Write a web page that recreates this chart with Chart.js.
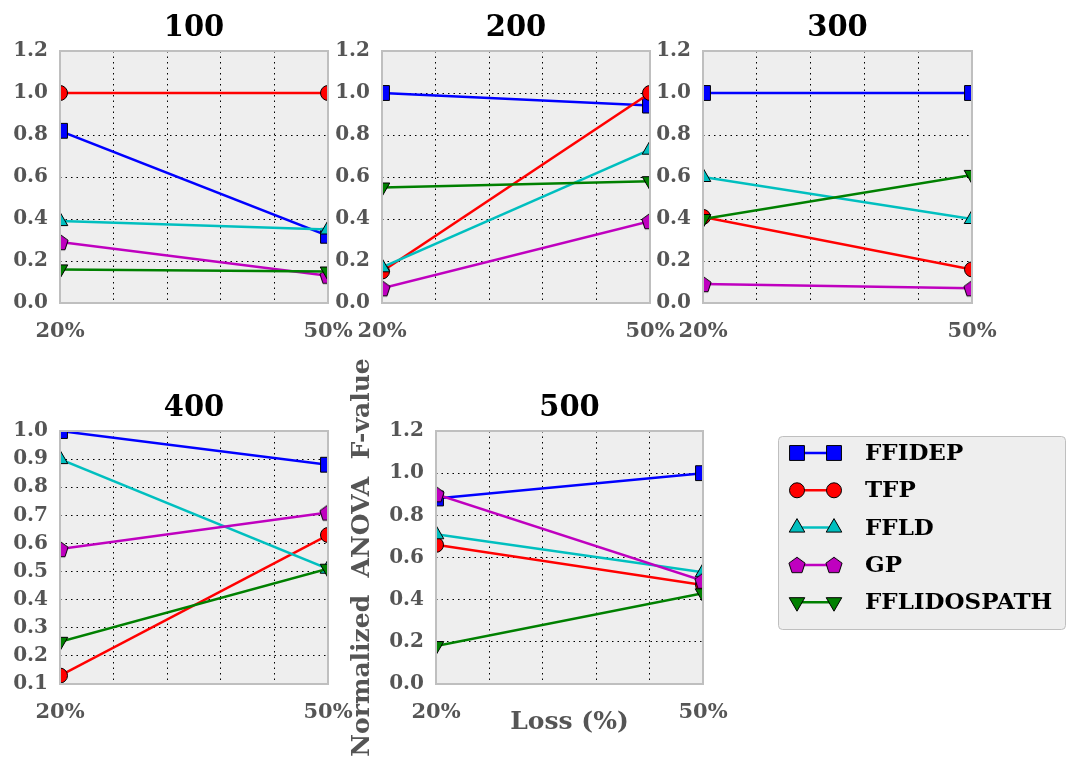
<!DOCTYPE html>
<html>
<head>
<meta charset="utf-8">
<script src="https://cdn.jsdelivr.net/npm/chart.js@4.4.0/dist/chart.umd.min.js"></script>
<style>
    body { margin: 0; background: #fff; }
    #wrap { position: relative; width: 1068px; height: 761px; }
    #wrap canvas { position: absolute; left: 0; top: 0; }
</style>
</head>
<body>
<div id="wrap">
    <canvas id="p100" width="1068" height="761"></canvas>
    <canvas id="p200" width="1068" height="761"></canvas>
    <canvas id="p300" width="1068" height="761"></canvas>
    <canvas id="p400" width="1068" height="761"></canvas>
    <canvas id="p500" width="1068" height="761"></canvas>
</div>
<script>
// x positions (loss %)
const lossLevels = [20, 50];
const panelTitles = ['100', '200', '300', '400', '500'];
const seriesNames = ['FFIDEP', 'TFP', 'FFLD', 'GP', 'FFLIDOSPATH'];

// one [20%, 50%] pair per panel (100..500)
const ffidep      = [[0.82, 0.32], [1.00, 0.94], [1.00, 1.00], [1.00, 0.88], [0.88, 1.00]];
const tfp         = [[1.00, 1.00], [0.15, 1.00], [0.41, 0.16], [0.13, 0.63], [0.66, 0.47]];
const ffld        = [[0.39, 0.35], [0.17, 0.73], [0.60, 0.40], [0.90, 0.51], [0.71, 0.53]];
const gp          = [[0.29, 0.13], [0.07, 0.39], [0.09, 0.07], [0.58, 0.71], [0.90, 0.49]];
const fflidospath = [[0.16, 0.15], [0.55, 0.58], [0.40, 0.61], [0.25, 0.51], [0.18, 0.43]];

// y tick ranges per panel
const yMins  = [0, 0, 0, 0.1, 0];
const yMaxs  = [1.2, 1.2, 1.2, 1.0, 1.2];
const ySteps = [0.2, 0.2, 0.2, 0.1, 0.2];

const seriesValues = [ffidep, tfp, ffld, gp, fflidospath];
const seriesColors = ['#0000ff', '#ff0000', '#00bfbf', '#bf00bf', '#008000'];

// pentagon marker (chart.js has none)
function makePentagon(color) {
    const c = document.createElement('canvas');
    c.width = 20; c.height = 20;
    const g = c.getContext('2d');
    g.beginPath();
    for (let i = 0; i < 5; i++) {
        const a = -Math.PI / 2 + i * 2 * Math.PI / 5;
        const px = 10 + Math.cos(a) * 8.5, py = 10.8 + Math.sin(a) * 8.5;
        if (i === 0) g.moveTo(px, py); else g.lineTo(px, py);
    }
    g.closePath();
    g.fillStyle = color;
    g.fill();
    g.lineWidth = 1;
    g.strokeStyle = '#000';
    g.stroke();
    return c;
}

const markerStyles   = ['rect', 'circle', 'triangle', makePentagon('#bf00bf'), 'triangle'];
const markerRadius   = [10.5, 7.5, 9, 8, 9];
const markerRotation = [0, 0, 0, 0, 180];

const yTickFont = { family: 'DejaVu Serif', weight: 'bold', size: 20 };
const xTickFont = { family: 'DejaVu Serif', weight: 'bold', size: 21 };
const labelFont = { family: 'DejaVu Serif', weight: 'bold', size: 25 };
const tickColor = '#555';

// plot area of each panel in page pixels
const panelRects = [
    { l: 60,  r: 328, t: 51,  b: 303 },
    { l: 382, r: 650, t: 51,  b: 303 },
    { l: 703, r: 972, t: 51,  b: 303 },
    { l: 60,  r: 328, t: 431, b: 684 },
    { l: 436, r: 703, t: 431, b: 684 }
];

const panelDecor = {
    id: 'panelDecor',
    beforeDraw(chart) {
        const a = chart.chartArea, ctx = chart.ctx;
        ctx.save();
        ctx.fillStyle = '#eeeeee';
        ctx.fillRect(a.left, a.top, a.right - a.left, a.bottom - a.top);
        ctx.restore();
    },
    afterDatasetsDraw(chart) {
        const a = chart.chartArea, ctx = chart.ctx;
        ctx.save();
        ctx.strokeStyle = '#bfbfbf';
        ctx.lineWidth = 2;
        ctx.strokeRect(a.left, a.top, a.right - a.left, a.bottom - a.top);
        ctx.restore();
    },
    afterDraw(chart, args, opts) {
        const a = chart.chartArea, ctx = chart.ctx;
        ctx.save();
        ctx.font = 'bold 29px "DejaVu Serif"';
        ctx.fillStyle = '#000';
        ctx.textAlign = 'center';
        ctx.textBaseline = 'alphabetic';
        ctx.fillText(opts.text, (a.left + a.right) / 2, a.top - 15);
        ctx.restore();
    }
};

const lineLegend = {
    id: 'lineLegend',
    afterDraw(chart) {
        const ctx = chart.ctx;
        const box = { x: 778, y: 436, w: 287, h: 193 };
        ctx.save();
        ctx.beginPath();
        ctx.roundRect(box.x + 0.5, box.y + 0.5, box.w, box.h, 4);
        ctx.fillStyle = '#eeeeee';
        ctx.fill();
        ctx.strokeStyle = '#bfbfbf';
        ctx.lineWidth = 1;
        ctx.stroke();

        seriesNames.forEach((name, s) => {
            const y = 453 + s * 37.3;
            const x1 = 797, x2 = 834;
            ctx.beginPath();
            ctx.moveTo(x1, y);
            ctx.lineTo(x2, y);
            ctx.strokeStyle = seriesColors[s];
            ctx.lineWidth = 2.5;
            ctx.stroke();
            [x1, x2].forEach(x => {
                ctx.fillStyle = seriesColors[s];
                ctx.strokeStyle = '#000';
                ctx.lineWidth = 1;
                Chart.helpers.drawPoint(ctx, {
                    pointStyle: markerStyles[s],
                    radius: markerRadius[s],
                    rotation: markerRotation[s],
                    borderWidth: 1
                }, x, y);
            });
            ctx.font = 'bold 23px "DejaVu Serif"';
            ctx.fillStyle = '#000';
            ctx.textAlign = 'left';
            ctx.textBaseline = 'middle';
            ctx.fillText(name, 865, y + 1);
        });
        ctx.restore();
    }
};

function createPanel(idx) {
    const rect = panelRects[idx];
    const last = idx === 4;
    const yWidth = last ? 89 : 60;
    const xHeight = last ? 53 : 40;

    const datasets = seriesNames.map((name, s) => ({
        label: name,
        data: lossLevels.map((x, k) => ({ x: x, y: seriesValues[s][idx][k] })),
        borderColor: seriesColors[s],
        backgroundColor: seriesColors[s],
        borderWidth: 2.5,
        pointStyle: markerStyles[s],
        pointRadius: markerRadius[s],
        pointHoverRadius: markerRadius[s],
        pointRotation: markerRotation[s],
        pointBorderColor: '#000',
        pointBorderWidth: 1,
        clip: 0,
        order: seriesNames.length - s
    }));

    const ctx = document.getElementById('p' + panelTitles[idx]).getContext('2d');

    new Chart(ctx, {
        type: 'line',
        data: { datasets: datasets },
        plugins: last ? [panelDecor, lineLegend] : [panelDecor],
        options: {
            responsive: false,
            animation: false,
            events: [],
            layout: {
                padding: {
                    left: rect.l - yWidth,
                    top: rect.t,
                    right: 1068 - rect.r,
                    bottom: 761 - rect.b - xHeight
                }
            },
            plugins: {
                legend: { display: false },
                tooltip: { enabled: false },
                panelDecor: { text: panelTitles[idx] }
            },
            scales: {
                x: {
                    type: 'linear',
                    min: lossLevels[0],
                    max: lossLevels[1],
                    ticks: {
                        stepSize: (lossLevels[1] - lossLevels[0]) / 5,
                        autoSkip: false,
                        maxRotation: 0,
                        color: tickColor,
                        font: xTickFont,
                        padding: 16,
                        callback: v => lossLevels.includes(v) ? v + '%' : ''
                    },
                    grid: { color: '#000', lineWidth: 1, drawTicks: false },
                    border: { display: false, dash: [1.5, 4] },
                    title: {
                        display: last,
                        text: 'Loss (%)',
                        color: tickColor,
                        font: labelFont,
                        padding: 0
                    },
                    afterFit: s => { s.height = xHeight; s.paddingLeft = 0; s.paddingRight = 0; }
                },
                y: {
                    min: yMins[idx],
                    max: yMaxs[idx],
                    ticks: {
                        stepSize: ySteps[idx],
                        autoSkip: false,
                        color: tickColor,
                        font: yTickFont,
                        padding: 12,
                        callback: v => v.toFixed(1)
                    },
                    grid: { color: '#000', lineWidth: 1, drawTicks: false },
                    border: { display: false, dash: [1.5, 4] },
                    title: {
                        display: last,
                        text: 'Normalized  ANOVA  F-value',
                        color: tickColor,
                        font: labelFont,
                        padding: 0
                    },
                    afterFit: s => { s.width = yWidth; s.paddingTop = 0; s.paddingBottom = 0; }
                }
            }
        }
    });
}

panelTitles.forEach((t, i) => createPanel(i));
</script>
</body>
</html>
